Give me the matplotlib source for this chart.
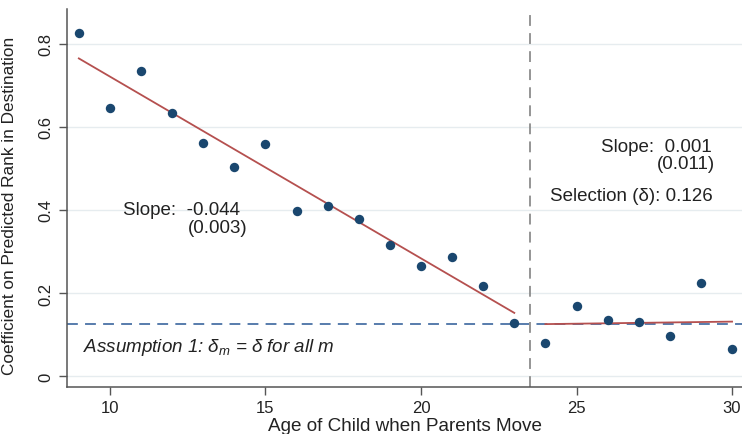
import numpy as np
import matplotlib
matplotlib.use('Agg')
import matplotlib.pyplot as plt

plt.rcParams['font.family'] = ['Liberation Sans', 'DejaVu Sans']
plt.rcParams['mathtext.fontset'] = 'custom'
plt.rcParams['mathtext.it'] = 'Liberation Sans:italic'
plt.rcParams['mathtext.rm'] = 'Liberation Sans'

# Data - age of child at move and estimated coefficients
ages   = np.arange(9, 31)
coefs  = [0.825, 0.646, 0.735, 0.634, 0.561, 0.504, 0.559, 0.398, 0.410, 0.378,
          0.316, 0.265, 0.287, 0.217, 0.128, 0.080, 0.169, 0.135, 0.130, 0.096,
          0.224, 0.065]

# fitted lines (endpoints)
fit_pre_x  = [9, 23]
fit_pre_y  = [0.765, 0.152]
fit_post_x = [24, 30]
fit_post_y = [0.125, 0.131]

selection = 0.126
cutoff    = 23.5

NAVY = '#1a476f'
RED  = '#b5504f'
TXT  = '#222222'


def main():
	fig = plt.figure(figsize=(7.42, 4.35), dpi=100)
	ax  = fig.add_axes([67/742, 1 - 388/435, 675/742, 378/435])

	# light horizontal grid
	for yv in [0, 0.2, 0.4, 0.6, 0.8]:
		ax.axhline(yv, color='#e6ecef', lw=1.0, zorder=0)

	ax.axhline(selection, color='#4a72a6', lw=1.3, ls=(0, (6, 4)), zorder=1)
	ax.axvline(cutoff, color='#8c8c8c', lw=1.3, ls=(0, (6, 4)), zorder=1)

	ax.plot(fit_pre_x, fit_pre_y, color=RED, lw=1.3, zorder=2)
	ax.plot(fit_post_x, fit_post_y, color=RED, lw=1.3, zorder=2)
	ax.scatter(ages, coefs, s=46, color=NAVY, zorder=3, linewidths=0)

	ax.set_xlim(8.62, 30.32)
	ax.set_ylim(-0.0265, 0.884)
	ax.set_xticks([10, 15, 20, 25, 30])
	ax.set_yticks([0, 0.2, 0.4, 0.6, 0.8])
	ax.set_yticklabels(['0', '0.2', '0.4', '0.6', '0.8'], rotation=90, va='center')
	ax.tick_params(direction='out', length=6, width=1, color='#555555',
		labelsize=12, labelcolor=TXT)

	for s in ['top', 'right']:
		ax.spines[s].set_visible(False)
	for s in ['left', 'bottom']:
		ax.spines[s].set_color('#555555')
		ax.spines[s].set_linewidth(1.1)

	ax.set_xlabel('Age of Child when Parents Move', fontsize=13.6, color=TXT, labelpad=1)
	ax.set_ylabel('Coefficient on Predicted Rank in Destination', fontsize=12.4, color=TXT)
	ax.yaxis.set_label_coords(-0.074, 0.481)

	ax.text(14.18, 0.402, 'Slope:  -0.044', fontsize=13.5, ha='right', va='center', color=TXT)
	ax.text(14.41, 0.357, '(0.003)', fontsize=13.5, ha='right', va='center', color=TXT)
	ax.text(29.36, 0.554, 'Slope:  0.001', fontsize=13.5, ha='right', va='center', color=TXT)
	ax.text(29.46, 0.511, '(0.011)', fontsize=13.5, ha='right', va='center', color=TXT)
	ax.text(29.39, 0.434, 'Selection (\u03b4): 0.126', fontsize=13.5, ha='right', va='center', color=TXT)
	ax.text(9.14, 0.07, r'Assumption 1: $\delta_m$ = $\delta$ for all $m$', fontsize=13.5,
		style='italic', va='center', color=TXT)

	# panel title, mostly cut off at the top edge
	fig.text(184/742, 1.0 + 0.04, '(a)', fontsize=20, ha='center', va='center')

	fig.savefig('out.png', dpi=100)
	return 0


if __name__ == "__main__":
	main()
